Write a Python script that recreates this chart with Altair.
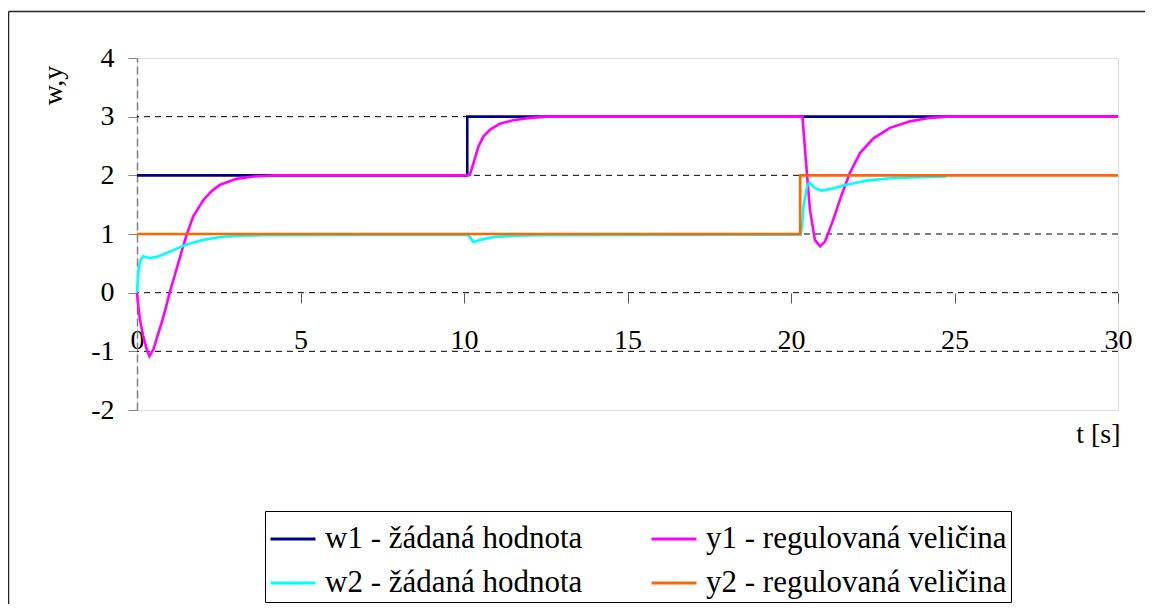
import altair as alt
import pandas as pd

# ---- data ----
# legend order (Vega fills legend columns first): w1, w2 | y1, y2
series_names = ["w1 - žádaná hodnota", "w2 - žádaná hodnota",
                "y1 - regulovaná veličina", "y2 - regulovaná veličina"]
series_keys = ["a", "b", "c", "d"]
colors = ["#000080", "#00FFFF", "#FF00FF", "#FF6600"]
draw_order = ["a", "c", "b", "d"]   # w1, y1, w2, y2

w1_t = [0, 10.1, 10.1, 30]
w1_v = [2, 2, 3, 3]

y1_t = [0, 0.04, 0.09, 0.19, 0.3, 0.38, 0.5, 0.62, 0.75, 0.88, 1.0, 1.13, 1.26,
        1.39, 1.52, 1.72, 2.03, 2.3, 2.54, 3.05, 3.56, 4.17, 5.0, 10.1, 10.18,
        10.29, 10.44, 10.59, 10.8, 11.1, 11.5, 12.02, 12.53, 13.5, 20.3, 20.35,
        20.47, 20.58, 20.73, 20.89, 21.04, 21.29, 21.55, 21.8, 22.11, 22.52,
        23.03, 23.64, 24.25, 24.76, 30]
y1_v = [0, -0.23, -0.46, -0.74, -0.97, -1.08, -0.97, -0.75, -0.52, -0.26, 0.0,
        0.25, 0.5, 0.75, 0.99, 1.3, 1.58, 1.74, 1.84, 1.94, 1.98, 2.0, 2.0, 2.0,
        2.01, 2.21, 2.49, 2.66, 2.78, 2.88, 2.94, 2.98, 3.0, 3.0, 3.0, 3.0, 2.15,
        1.41, 0.9, 0.79, 0.87, 1.24, 1.67, 2.04, 2.38, 2.63, 2.81, 2.92, 2.98,
        3.0, 3.0]

w2_t = [0, 0.04, 0.08, 0.11, 0.19, 0.3, 0.4, 0.6, 0.8, 1.0, 1.25, 1.52, 2.03,
        2.54, 3.15, 3.81, 10.1, 10.18, 10.29, 10.49, 10.9, 11.6, 12.27, 20.3,
        20.35, 20.38, 20.5, 20.58, 20.73, 20.94, 21.24, 21.7, 22.31, 23.03,
        23.94, 24.76]
w2_v = [0, 0.34, 0.5, 0.56, 0.62, 0.6, 0.59, 0.61, 0.65, 0.70, 0.76, 0.82, 0.9,
        0.95, 0.97, 0.98, 0.99, 0.95, 0.86, 0.9, 0.95, 0.97, 0.98, 0.99, 1.2,
        1.47, 1.84, 1.87, 1.78, 1.74, 1.77, 1.84, 1.91, 1.95, 1.97, 1.98]

y2_t = [0, 20.28, 20.28, 30]
y2_v = [1, 1, 2, 2]

x_ticks = [0, 5, 10, 15, 20, 25, 30]
y_ticks = [-2, -1, 0, 1, 2, 3, 4]
grid_vals = [-1, 0, 1, 2, 3]

rows = []
for key, ts, vs in zip(series_keys, [w1_t, w2_t, y1_t, y2_t],
                       [w1_v, w2_v, y1_v, y2_v]):
    for i, (t, v) in enumerate(zip(ts, vs)):
        rows.append({"s": key, "t": t, "v": v, "i": i})
df = pd.DataFrame(rows)

label_expr = " : ".join(
    f"datum.label == '{k}' ? '{n}'" for k, n in zip(series_keys, series_names)
) + " : datum.label"

FONT = "Liberation Serif"
W, H = 981, 352

xscale = alt.Scale(domain=[0, 30], nice=False, zero=False)
yscale = alt.Scale(domain=[-2, 4], nice=False, zero=False)

xaxis = alt.Axis(values=x_ticks, title="t [s]", titleX=983, titleY=149,
                 titleAlign="right", titleBaseline="alphabetic",
                 titleFont=FONT, titleFontSize=28, titleFontWeight="normal",
                 titleColor="black", labelFont=FONT, labelFontSize=28,
                 labelColor="black", labelBaseline="alphabetic",
                 labelPadding=45, labelFlush=False, labelExpr="datum.value + ''",
                 tickSize=10, tickColor="#555555", domain=False, grid=False,
                 offset=-117)
yaxis = alt.Axis(values=y_ticks, title="w,y", titleX=-84, titleY=27,
                 titleAngle=270, titleAlign="center", titleBaseline="middle",
                 titleFont=FONT, titleFontSize=28, titleFontWeight="normal",
                 titleColor="black", labelFont=FONT, labelFontSize=28,
                 labelColor="black", labelPadding=14,
                 labelExpr="datum.value + ''", tickSize=9,
                 tickColor="#808080", domainColor="#808080",
                 domainDash=[8, 4], domainWidth=1.5, grid=False)

color = alt.Color("s:N", sort=series_keys,
                  scale=alt.Scale(domain=series_keys, range=colors),
                  legend=alt.Legend(title=None, orient="none", legendX=128,
                                    legendY=453, columns=2,
                                    labelExpr=label_expr,
                                    symbolType="stroke", symbolSize=2025,
                                    symbolStrokeWidth=3, labelFont=FONT,
                                    labelFontSize=31, labelColor="black",
                                    labelOffset=8, labelLimit=600,
                                    columnPadding=62, rowPadding=5, padding=4,
                                    strokeColor="black", fillColor="white",
                                    cornerRadius=0))

top_border = alt.Chart(pd.DataFrame({"a": [0]})).mark_rule(
    color="#222222", strokeWidth=1.5
).encode(x=alt.value(-128.5), x2=alt.value(1008), y=alt.value(-46.5))
left_border = alt.Chart(pd.DataFrame({"a": [0]})).mark_rule(
    color="#222222", strokeWidth=1.5
).encode(x=alt.value(-128.5), y=alt.value(-46.5), y2=alt.value(700))

grid = alt.Chart(pd.DataFrame({"g": grid_vals})).mark_rule(
    color="black", strokeWidth=1, strokeDash=[6, 5]
).encode(y=alt.Y("g:Q", scale=yscale, axis=yaxis))


def line(key):
    return alt.Chart(df).transform_filter(alt.datum.s == key).mark_line(
        strokeWidth=2.6
    ).encode(x=alt.X("t:Q", scale=xscale, axis=xaxis),
             y=alt.Y("v:Q", scale=yscale, axis=yaxis),
             color=color, order="i:Q")


chart = alt.layer(top_border, left_border, grid,
                  *[line(k) for k in draw_order]).properties(
    width=W, height=H,
    autosize=alt.AutoSizeParams(type="none"),
    padding={"left": 129, "top": 50, "right": 27, "bottom": 194},
).configure_view(stroke=None).configure(font=FONT)

chart.save("out.html", embed_options={"renderer": "svg", "actions": False})
